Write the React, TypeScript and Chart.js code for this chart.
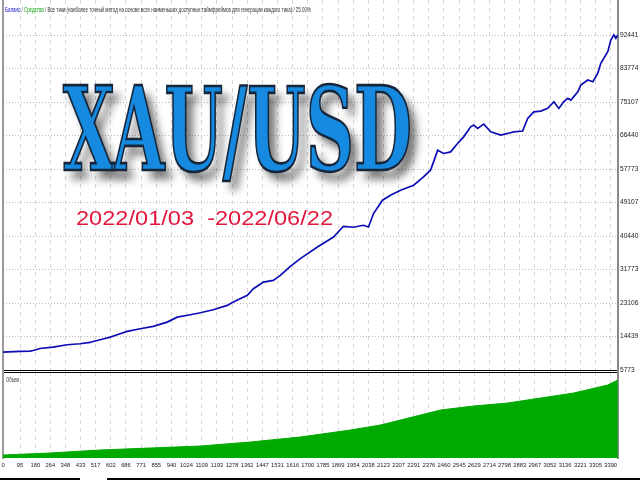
import React, { useEffect, useRef } from "react";
import { Chart, registerables } from "chart.js";

Chart.register(...registerables);

// ---- data ----
const X_TICKS = [0, 95, 180, 264, 348, 433, 517, 602, 686, 771, 855, 940, 1024, 1109, 1193, 1278, 1362, 1447, 1531, 1616, 1700, 1785, 1869, 1954, 2038, 2123, 2207, 2291, 2376, 2460, 2545, 2629, 2714, 2798, 2883, 2967, 3052, 3136, 3221, 3305, 3390];
const X_MAX = 3431;

const Y_TICKS = [5773, 14439, 23106, 31773, 40440, 49107, 57773, 66440, 75107, 83774, 92441];
const Y_MIN = 5773;
const Y_MAX = 101496;

// Balance curve: trade number -> balance
const BAL_T = [0, 95, 151, 168, 207, 279, 358, 430, 486, 503, 542, 598, 637, 693, 765, 838, 916, 972, 1045, 1101, 1173, 1251, 1285, 1363, 1397, 1453, 1508, 1547, 1603, 1659, 1754, 1844, 1899, 1955, 2011, 2039, 2067, 2117, 2162, 2218, 2291, 2346, 2385, 2402, 2425, 2458, 2497, 2536, 2570, 2609, 2626, 2648, 2682, 2721, 2777, 2816, 2849, 2899, 2927, 2961, 3000, 3039, 3073, 3101, 3128, 3151, 3168, 3207, 3223, 3263, 3291, 3318, 3335, 3374, 3391, 3408, 3419, 3430];
const BAL_V = [10380, 10566, 10640, 10825, 11344, 11680, 12302, 12561, 12898, 13157, 13598, 14272, 14893, 15748, 16448, 17044, 18158, 19453, 20075, 20594, 21371, 22485, 23340, 25076, 26812, 28522, 28962, 30258, 32590, 34585, 37591, 40182, 42954, 42700, 43213, 42772, 46245, 49690, 50986, 52281, 53577, 55728, 57463, 59614, 62646, 61791, 62206, 64382, 66092, 68683, 69123, 68268, 69383, 67387, 66533, 66972, 67387, 67600, 70859, 72568, 72750, 73451, 75161, 73451, 75161, 76042, 75598, 77751, 79489, 80785, 80344, 82520, 85111, 88116, 91150, 92441, 91586, 92441];

// Volume panel: trade number -> volume (arbitrary units)
const VOL_T = [0, 263, 542, 821, 1101, 1380, 1659, 1939, 2106, 2218, 2441, 2626, 2816, 3000, 3184, 3374, 3430];
const VOL_V = [3, 5, 8, 10, 12, 16, 21, 28, 33, 38, 48, 52, 55, 60, 65, 73, 78];
const VOL_MAX = 86;

const TITLE = "XAU/USD";
const DATES = "2022/01/03  -2022/06/22";
const LEGEND_PARTS: [string, string][] = [
  ["Баланс", "#1010c8"],
  [" / ", "#333333"],
  ["Средства", "#10a010"],
  [" / Все тики (наиболее точный метод на основе всех наименьших доступных таймфреймов для генерации каждого тика) / 25.00%", "#333333"],
];
const VOL_LABEL = "Объем";

const SMALL = "'Liberation Sans', Arial, sans-serif";

const mainOverlay = {
  id: "mainOverlay",
  beforeDatasetsDraw(chart: any) {
    const ctx = chart.ctx as CanvasRenderingContext2D;
    // Big title
    ctx.save();
    ctx.font = "bold 116px 'DejaVu Serif', serif";
    ctx.textBaseline = "alphabetic";
    ctx.textAlign = "left";
    const tw = ctx.measureText(TITLE).width;
    ctx.translate(63, 170);
    ctx.scale(349 / tw, 1);
    ctx.shadowColor = "rgba(0,0,0,0.55)";
    ctx.shadowBlur = 8;
    ctx.shadowOffsetX = 7;
    ctx.shadowOffsetY = 9;
    ctx.fillStyle = "#1689e0";
    ctx.fillText(TITLE, 0, 0);
    ctx.shadowColor = "rgba(0,0,0,0)";
    ctx.lineWidth = 2.6;
    ctx.strokeStyle = "#15263a";
    ctx.strokeText(TITLE, 0, 0);
    ctx.restore();

    // Dates
    ctx.save();
    ctx.font = "21px 'Liberation Sans', Arial, sans-serif";
    ctx.textBaseline = "alphabetic";
    const dw = ctx.measureText(DATES).width;
    ctx.translate(76, 225);
    ctx.scale(257 / dw, 1);
    ctx.fillStyle = "#e3173e";
    ctx.fillText(DATES, 0, 0);
    ctx.restore();

    // Legend line
    ctx.save();
    ctx.font = "8px " + SMALL;
    ctx.textBaseline = "middle";
    let total = 0;
    for (const [t] of LEGEND_PARTS) total += ctx.measureText(t).width;
    ctx.translate(5, 10);
    ctx.scale(306 / total, 1);
    let x = 0;
    for (const [t, c] of LEGEND_PARTS) {
      ctx.fillStyle = c;
      ctx.fillText(t, x, 0);
      x += ctx.measureText(t).width;
    }
    ctx.restore();
  },
};

const volOverlay = {
  id: "volOverlay",
  afterDatasetsDraw(chart: any) {
    const ctx = chart.ctx as CanvasRenderingContext2D;
    ctx.save();
    ctx.font = "8px " + SMALL;
    ctx.textBaseline = "middle";
    const w = ctx.measureText(VOL_LABEL).width;
    ctx.translate(6, 10);
    ctx.scale(13 / w, 1);
    ctx.fillStyle = "#333333";
    ctx.fillText(VOL_LABEL, 0, 0);
    ctx.restore();
  },
};

const fixRight = (s: any) => {
  s.width = 22;
  s.paddingTop = 0;
  s.paddingBottom = 0;
};
const fixLeft = (s: any) => {
  s.width = 3;
  s.paddingTop = 0;
  s.paddingBottom = 0;
};

export default function App() {
  const mainRef = useRef<HTMLCanvasElement>(null);
  const volRef = useRef<HTMLCanvasElement>(null);

  useEffect(() => {
    const xTicks = (s: any) => {
      s.ticks = X_TICKS.map((v) => ({ value: v }));
    };

    const main = new Chart(mainRef.current!, {
      type: "line",
      data: {
        datasets: [
          {
            data: BAL_T.map((t, i) => ({ x: t, y: BAL_V[i] })),
            borderColor: "#0c0cb4",
            borderWidth: 1.7,
            pointRadius: 0,
            tension: 0,
            fill: false,
          },
        ],
      },
      options: {
        animation: false,
        responsive: false,
        maintainAspectRatio: false,
        layout: { padding: { left: 0, right: 0, top: 0, bottom: 6 } },
        plugins: { legend: { display: false }, tooltip: { enabled: false }, title: { display: false } },
        scales: {
          x: {
            type: "linear",
            position: "bottom",
            min: 0,
            max: X_MAX,
            afterBuildTicks: xTicks,
            ticks: { display: false },
            grid: { color: "#d6d6d6", lineWidth: 1, drawTicks: false },
            border: { display: true, color: "#000000", width: 1, dash: [4, 4] },
            afterFit: (s: any) => {
              s.height = 0;
              s.paddingLeft = 0;
              s.paddingRight = 0;
            },
          },
          y: {
            type: "linear",
            position: "right",
            min: Y_MIN,
            max: Y_MAX,
            afterBuildTicks: (s: any) => {
              s.ticks = Y_TICKS.map((v) => ({ value: v }));
            },
            ticks: {
              callback: (v: any) => String(v),
              font: { family: SMALL, size: 6.6 },
              color: "#222222",
              padding: 2,
            },
            grid: { color: "#bcbcbc", lineWidth: 1, drawTicks: false },
            border: { display: true, color: "#8a8a8a", width: 2, dash: [1, 2] },
            afterFit: fixRight,
          },
          yl: {
            type: "linear",
            position: "left",
            ticks: { display: false },
            grid: { display: false },
            border: { display: true, color: "#9a9a9a", width: 2 },
            afterFit: fixLeft,
          },
        },
      },
      plugins: [mainOverlay],
    } as any);

    const vol = new Chart(volRef.current!, {
      type: "line",
      data: {
        datasets: [
          {
            data: VOL_T.map((t, i) => ({ x: t, y: VOL_V[i] })),
            borderColor: "#00aa00",
            backgroundColor: "#00aa00",
            borderWidth: 1,
            pointRadius: 0,
            tension: 0,
            fill: "origin",
          },
        ],
      },
      options: {
        animation: false,
        responsive: false,
        maintainAspectRatio: false,
        layout: { padding: 0 },
        plugins: { legend: { display: false }, tooltip: { enabled: false }, title: { display: false } },
        scales: {
          x: {
            type: "linear",
            position: "bottom",
            min: 0,
            max: X_MAX,
            afterBuildTicks: xTicks,
            ticks: {
              callback: (v: any) => String(v),
              font: { family: SMALL, size: 5.8 },
              color: "#222222",
              padding: 4,
              autoSkip: false,
              maxRotation: 0,
              minRotation: 0,
            },
            grid: { color: "#d6d6d6", lineWidth: 1, drawTicks: false },
            border: { display: false, dash: [4, 4] },
            afterFit: (s: any) => {
              s.height = 22;
              s.paddingLeft = 0;
              s.paddingRight = 0;
            },
          },
          xt: {
            type: "linear",
            position: "top",
            min: 0,
            max: X_MAX,
            ticks: { display: false },
            grid: { display: false },
            border: { display: true, color: "#000000", width: 1 },
            afterFit: (s: any) => {
              s.height = 2;
              s.paddingLeft = 0;
              s.paddingRight = 0;
            },
          },
          y: {
            type: "linear",
            position: "right",
            min: 0,
            max: VOL_MAX,
            ticks: { display: false },
            grid: { display: false },
            border: { display: true, color: "#8a8a8a", width: 2 },
            afterFit: fixRight,
          },
          yl: {
            type: "linear",
            position: "left",
            ticks: { display: false },
            grid: { display: false },
            border: { display: true, color: "#9a9a9a", width: 2 },
            afterFit: fixLeft,
          },
        },
      },
      plugins: [volOverlay],
    } as any);

    return () => {
      main.destroy();
      vol.destroy();
    };
  }, []);

  return (
    <div style={{ position: "absolute", left: 0, top: 0, width: 640, height: 480, background: "#ffffff", overflow: "hidden" }}>
      <canvas ref={mainRef} width={640} height={376} style={{ position: "absolute", left: 0, top: 0, width: 640, height: 376 }} />
      <canvas ref={volRef} width={640} height={110} style={{ position: "absolute", left: 0, top: 370, width: 640, height: 110 }} />
      <div style={{ position: "absolute", left: 0, top: 478, width: 80, height: 2, background: "#000" }} />
      <div style={{ position: "absolute", left: 107, top: 478, width: 533, height: 2, background: "#000" }} />
    </div>
  );
}
